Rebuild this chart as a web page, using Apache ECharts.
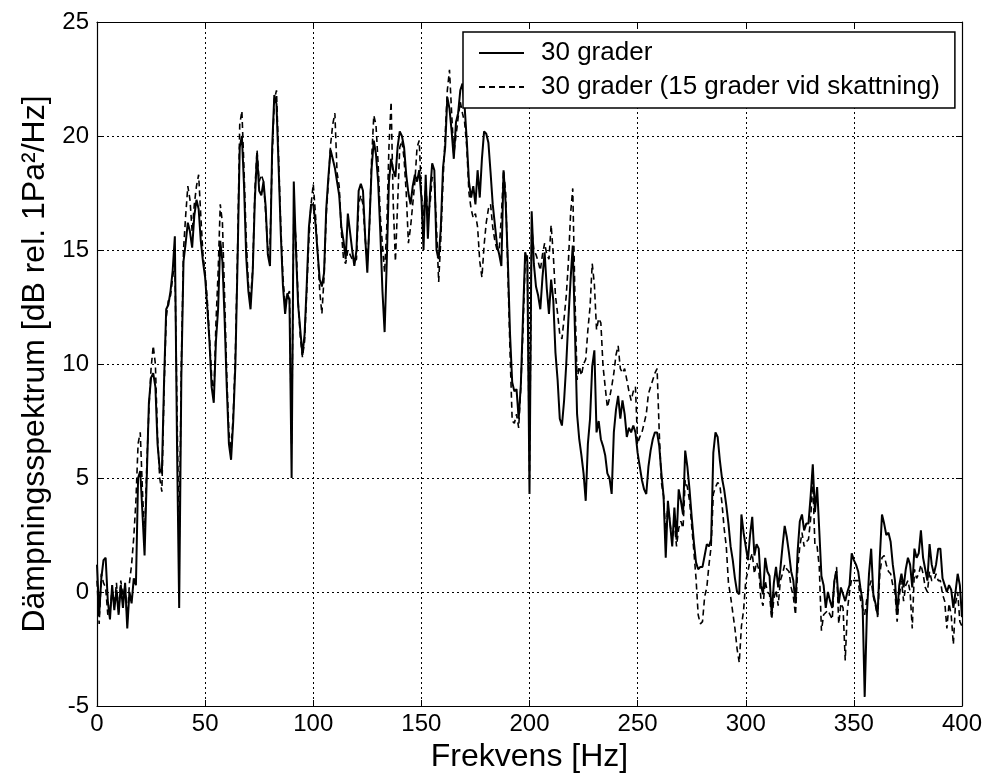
<!DOCTYPE html>
<html><head><meta charset="utf-8">
<script src="https://cdn.jsdelivr.net/npm/echarts@6/dist/echarts.min.js"></script>
<style>html,body{margin:0;padding:0;background:#fff}#c{width:990px;height:783px}</style>
</head><body><div id="c"></div>
<script>
var freqHz = [0,1,2,3,4,5,6,7,8,9,10,11,12,13,14,15,16,17,18,19,20,21,22,23,24,25,26,27,28,29,30,31,32,33,34,35,36,37,38,39,40,41,42,43,44,45,46,47,48,49,50,51,52,53,54,55,56,57,58,59,60,61,62,63,64,65,66,67,68,69,70,71,72,73,74,75,76,77,78,79,80,81,82,83,84,85,86,87,88,89,90,91,92,93,94,95,96,97,98,99,100,101,102,103,104,105,106,107,108,109,110,111,112,113,114,115,116,117,118,119,120,121,122,123,124,125,126,127,128,129,130,131,132,133,134,135,136,137,138,139,140,141,142,143,144,145,146,147,148,149,150,151,152,153,154,155,156,157,158,159,160,161,162,163,164,165,166,167,168,169,170,171,172,173,174,175,176,177,178,179,180,181,182,183,184,185,186,187,188,189,190,191,192,193,194,195,196,197,198,199,200,201,202,203,204,205,206,207,208,209,210,211,212,213,214,215,216,217,218,219,220,221,222,223,224,225,226,227,228,229,230,231,232,233,234,235,236,237,238,239,240,241,242,243,244,245,246,247,248,249,250,251,252,253,254,255,256,257,258,259,260,261,262,263,264,265,266,267,268,269,270,271,272,273,274,275,276,277,278,279,280,281,282,283,284,285,286,287,288,289,290,291,292,293,294,295,296,297,298,299,300,301,302,303,304,305,306,307,308,309,310,311,312,313,314,315,316,317,318,319,320,321,322,323,324,325,326,327,328,329,330,331,332,333,334,335,336,337,338,339,340,341,342,343,344,345,346,347,348,349,350,351,352,353,354,355,356,357,358,359,360,361,362,363,364,365,366,367,368,369,370,371,372,373,374,375,376,377,378,379,380,381,382,383,384,385,386,387,388,389,390,391,392,393,394,395,396,397,398,399,400];

var grader30 = [
1.2,-1.0,0.6,1.4,1.5,-0.4,-1.2,0.3,-0.8,0.1,
-1.0,0.3,-0.7,0.4,-1.6,0.0,-0.5,0.6,0.3,5.0,
5.3,3.5,1.6,5.0,8.3,9.4,9.6,9.0,6.5,5.4,
5.2,9.2,12.4,12.6,13.2,14.1,15.6,6.5,-0.7,9.4,
14.5,15.3,16.2,15.8,15.1,16.5,17.2,16.8,15.4,14.5,
13.8,12.5,11.0,9.0,8.3,11.0,12.4,15.4,14.5,12.0,
9.0,6.5,5.8,7.5,10.0,14.5,19.5,20.0,17.8,14.7,
13.2,12.4,14.0,17.2,19.2,17.6,17.4,18.0,16.9,14.8,
14.3,19.5,21.8,21.4,18.6,15.7,13.4,12.2,13.1,12.8,
5.0,18.0,15.0,12.6,11.5,10.4,11.3,13.5,16.0,17.0,
17.0,16.2,14.9,13.7,13.4,14.0,16.8,18.2,19.4,19.0,
18.6,18.0,17.4,16.0,15.4,14.6,16.6,15.8,15.0,14.3,
15.0,17.6,17.9,17.6,15.6,14.0,16.2,18.6,19.8,19.2,
18.0,15.8,13.2,11.4,14.5,18.0,19.0,18.5,18.2,19.5,
20.2,20.0,19.5,18.3,17.5,17.0,17.8,18.3,18.0,18.5,
17.3,15.0,18.3,15.5,17.5,18.8,18.5,15.0,14.6,16.0,
18.6,19.5,21.7,21.2,20.2,19.0,20.6,21.0,22.0,22.3,
21.3,19.8,18.0,17.3,17.8,17.0,18.5,17.3,19.0,20.2,
20.1,19.7,18.4,17.0,16.1,15.2,14.8,14.3,18.5,17.0,
14.5,11.3,9.2,8.8,8.9,7.6,9.1,12.1,14.9,14.5,
4.3,16.7,14.4,13.4,13.0,12.4,13.8,14.9,13.3,12.2,
13.7,12.8,10.5,9.3,7.6,7.3,8.4,10.0,12.0,13.7,
15.2,11.5,7.8,6.7,6.0,5.2,4.0,6.5,7.6,9.9,
10.6,7.0,7.5,6.7,6.4,6.0,5.2,5.0,4.3,7.0,
8.0,8.6,7.6,8.4,7.8,6.8,7.2,7.0,7.3,7.0,
6.1,5.5,4.9,4.5,4.3,5.5,6.2,6.7,7.0,7.0,
6.4,5.2,4.2,1.5,4.0,3.0,2.0,3.7,2.3,4.5,
4.0,3.4,6.2,5.5,4.5,3.3,2.2,1.3,1.0,1.1,
1.1,1.6,2.1,2.0,2.3,6.1,7.0,6.8,5.8,5.0,
4.5,3.8,3.0,2.0,1.4,0.6,0.0,-0.1,3.4,2.6,
2.0,1.4,2.5,3.3,1.6,2.1,1.9,0.3,-0.1,1.5,
0.9,0.7,-1.0,0.4,1.1,0.2,1.0,2.0,2.9,2.4,
1.7,0.9,0.5,-0.5,1.8,3.1,3.4,2.7,3.0,3.0,
4.2,5.6,3.5,4.6,2.7,0.7,0.3,-0.7,0.0,-0.4,
-0.7,0.5,0.9,-0.5,0.2,-0.1,-0.4,0.0,0.3,1.7,
1.4,1.2,0.9,0.2,-0.4,-4.6,-1.0,0.8,1.9,-0.1,
-0.5,-1.0,1.5,3.4,3.0,2.5,2.6,2.2,1.2,0.5,
-1.0,0.3,0.8,0.2,1.0,1.5,1.2,0.2,1.9,1.5,
1.7,2.7,1.5,1.0,0.5,2.1,1.2,0.8,1.2,1.9,
1.9,0.6,0.3,0.0,0.3,0.1,-0.7,0.0,0.8,0.3,
-1.1];

var grader30est15 = [
0.5,-1.4,0.8,0.4,0.2,-1.0,-0.8,0.1,-0.6,0.4,
-0.9,0.5,-0.2,0.3,-1.2,0.4,1.2,2.4,4.0,6.5,
7.0,4.5,2.4,5.5,8.0,9.8,10.8,10.0,6.8,5.0,
4.4,8.8,12.0,12.8,13.0,13.8,14.5,8.0,2.0,10.0,
15.0,16.5,17.8,17.2,15.8,17.0,17.8,18.3,16.5,14.8,
14.0,12.8,11.2,9.5,8.5,11.8,14.0,17.0,16.2,13.0,
9.5,7.0,6.2,7.8,10.5,15.0,20.5,21.1,18.5,15.5,
13.5,12.8,14.2,17.6,19.4,18.0,18.3,18.0,16.6,15.0,
15.2,19.0,21.6,22.0,19.0,16.0,13.8,12.6,13.0,13.2,
6.5,16.5,15.5,12.8,11.2,10.3,11.0,13.2,15.5,17.0,
17.9,16.6,15.0,13.2,12.2,13.8,16.5,18.0,19.6,20.5,
21.0,18.4,17.8,15.8,14.6,14.4,15.0,14.8,14.6,14.5,
14.6,17.0,17.4,17.0,15.5,14.5,16.0,19.0,20.9,20.5,
18.8,16.5,15.2,14.0,16.0,19.5,21.5,17.0,14.5,17.0,
19.5,19.8,19.0,17.5,15.3,16.0,17.0,18.0,19.5,19.8,
17.5,16.5,17.8,16.6,17.0,18.2,18.0,16.0,13.6,15.5,
18.0,20.0,22.0,22.9,21.0,19.2,20.0,20.8,21.5,21.0,
20.6,19.5,17.5,16.8,16.4,16.6,16.0,14.5,13.8,15.2,
16.2,16.8,17.0,16.0,15.4,15.0,15.0,16.5,18.5,17.5,
14.0,10.5,7.5,7.4,7.8,7.2,9.0,11.5,14.5,14.8,
5.0,16.0,15.0,14.8,14.5,14.1,14.8,15.3,14.8,14.6,
16.1,14.8,13.0,12.2,11.3,11.1,12.0,13.0,14.5,16.6,
17.7,13.0,9.3,9.9,9.5,10.0,10.2,11.5,12.5,14.4,
13.5,11.5,12.0,11.8,9.9,9.0,8.1,8.5,9.0,9.6,
10.4,10.8,9.8,9.6,9.8,9.3,8.8,8.4,8.8,9.0,
6.5,6.8,7.0,7.4,7.8,8.7,9.0,9.3,9.6,9.8,
7.0,4.8,4.2,2.5,3.8,3.0,2.3,3.0,2.0,2.8,
3.1,2.8,4.9,4.6,4.0,2.9,1.8,0.6,-1.0,-1.4,
-1.3,-0.2,0.2,1.2,2.0,4.3,4.6,4.8,4.7,3.9,
2.8,2.0,0.4,-0.2,-0.9,-1.6,-2.5,-3.1,-1.5,-0.8,
0.5,0.9,1.4,1.7,0.8,1.3,1.0,-0.3,-0.6,0.5,
0.0,-0.1,-1.2,-0.3,0.1,-0.6,0.5,0.8,1.2,1.0,
0.9,0.2,-0.2,-1.0,1.0,2.0,2.6,2.0,2.2,2.3,
3.2,4.9,2.0,2.0,1.1,-1.7,-1.0,-0.9,-0.8,-1.0,
-1.2,0.5,1.1,-1.4,-0.5,-0.7,-3.0,-0.8,0.0,0.6,
0.5,0.5,0.5,-0.3,-0.7,-1.0,-0.3,0.2,0.5,-0.2,
-0.6,-1.1,0.8,1.5,1.6,1.2,0.9,0.8,0.3,0.0,
-1.3,-0.2,0.5,-0.4,0.3,0.5,0.0,-1.6,1.0,0.6,
0.8,1.2,0.8,0.2,0.0,0.9,0.5,0.5,0.8,0.5,
0.5,-0.1,-0.4,-1.6,-0.5,-1.0,-2.3,-0.5,0.0,-1.3,
-1.5];

var seriesNames = ['30 grader', '30 grader (15 grader vid skattning)'];
var xTitle = 'Frekvens [Hz]';
var yTitle = 'Dämpningsspektrum [dB rel. 1Pa²/Hz]';

function pairs(v){ return freqHz.map(function(f,i){ return [f, v[i]]; }); }

var FONT = 'Liberation Sans, Arial, sans-serif';
var gridLine = {show:true, lineStyle:{color:'#000', type:[2,3], width:1}};
var chart = echarts.init(document.getElementById('c'), null, {renderer:'canvas'});
chart.setOption({
  animation:false,
  backgroundColor:'#fff',
  grid:{left:97, right:28, top:22, bottom:77},
  legend:{
    orient:'vertical', left:463, top:32,
    backgroundColor:'#fff', borderColor:'#000', borderWidth:1.5,
    padding:[6,15,6,15], itemWidth:45, itemHeight:14, itemGap:4,
    itemStyle:{opacity:0},
    textStyle:{fontFamily:FONT, fontSize:26, color:'#000', lineHeight:30, padding:[0,0,0,12]},
    data:seriesNames
  },
  xAxis:[{
    type:'value', min:0, max:400, interval:50, position:'bottom',
    name:xTitle, nameLocation:'middle', nameGap:31,
    nameTextStyle:{fontFamily:FONT, fontSize:32, color:'#000'},
    axisLine:{show:true, onZero:false, lineStyle:{color:'#000', width:1.2}},
    axisTick:{show:true, inside:true, length:6, lineStyle:{color:'#000'}},
    axisLabel:{fontFamily:FONT, fontSize:24, color:'#000', margin:6},
    splitLine:gridLine
  },{
    type:'value', min:0, max:400, interval:50, position:'top',
    axisLine:{show:true, onZero:false, lineStyle:{color:'#000', width:1.2}},
    axisTick:{show:true, inside:true, length:6, lineStyle:{color:'#000'}},
    axisLabel:{show:false}, splitLine:{show:false}
  }],
  yAxis:[{
    type:'value', min:-5, max:25, interval:5, position:'left',
    name:yTitle, nameLocation:'middle', nameGap:44,
    nameTextStyle:{fontFamily:FONT, fontSize:32, color:'#000'},
    axisLine:{show:true, onZero:false, lineStyle:{color:'#000', width:1.2}},
    axisTick:{show:true, inside:true, length:6, lineStyle:{color:'#000'}},
    axisLabel:{fontFamily:FONT, fontSize:24, color:'#000', margin:8},
    splitLine:gridLine
  },{
    type:'value', min:-5, max:25, interval:5, position:'right',
    axisLine:{show:true, onZero:false, lineStyle:{color:'#000', width:1.2}},
    axisTick:{show:true, inside:true, length:6, lineStyle:{color:'#000'}},
    axisLabel:{show:false}, splitLine:{show:false}
  }],
  series:[{
    name:seriesNames[0], type:'line', data:pairs(grader30),
    showSymbol:false, symbol:'none',
    lineStyle:{color:'#000', width:2, type:'solid'}, itemStyle:{color:'#000'}
  },{
    name:seriesNames[1], type:'line', data:pairs(grader30est15),
    showSymbol:false, symbol:'none',
    lineStyle:{color:'#000', width:1.6, type:[6,4]}, itemStyle:{color:'#000'}
  }]
});
</script></body></html>
